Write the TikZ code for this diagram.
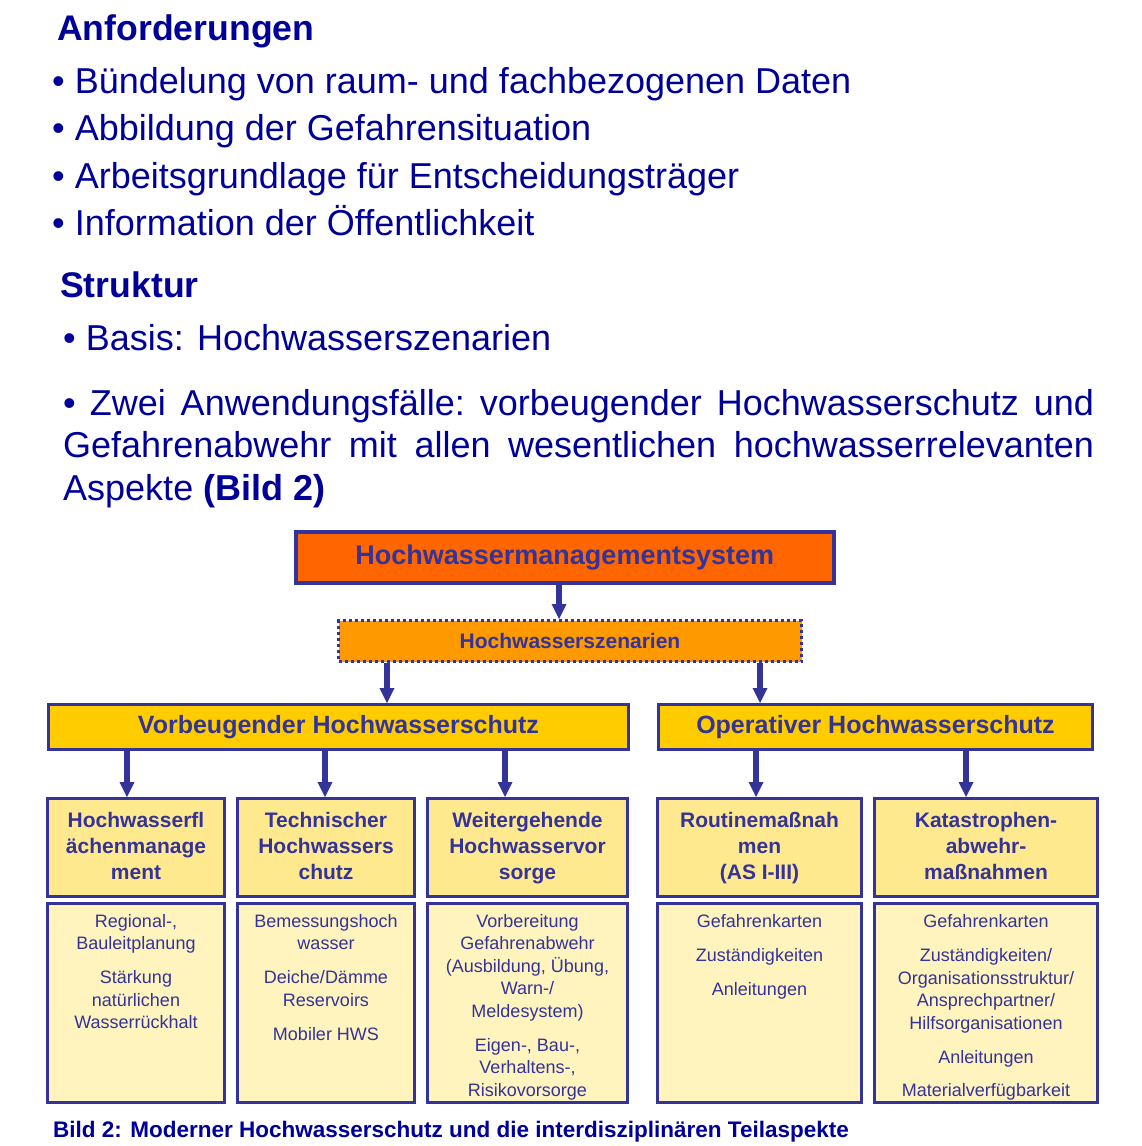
\documentclass[tikz,border=0pt]{standalone}
\usepackage{fontspec}
\setmainfont{Liberation Sans}
\usetikzlibrary{arrows.meta,positioning}

\definecolor{tinte}{RGB}{0,0,153}
\definecolor{rahmen}{RGB}{51,51,153}
\definecolor{orange1}{RGB}{255,102,0}
\definecolor{orange2}{RGB}{255,153,0}
\definecolor{gelb1}{RGB}{255,204,0}
\definecolor{gelb2}{RGB}{255,233,143}
\definecolor{gelb3}{RGB}{255,244,190}

\begin{document}
\begin{tikzpicture}[x=1pt, y=-1pt]

    % rozměry obrázku (v pixelech)
    \def\W{1141}
    \def\H{1146}

    % styly
    \tikzset{
        kopf/.style={inner sep=0pt, anchor=base west, text=tinte, font=\bfseries\fontsize{35.6}{42}\selectfont},
        zeile/.style={inner sep=0pt, anchor=base west, text=tinte, font=\fontsize{36}{43}\selectfont},
        kasten/.style={draw=rahmen, line width=3pt, inner sep=0pt, anchor=north west, text=rahmen, align=center},
        titel/.style={kasten, fill=gelb2, minimum height=98pt, font=\bfseries\fontsize{21}{26}\selectfont},
        leer/.style={kasten, fill=gelb3, minimum height=199pt},
        inhalt/.style={inner sep=0pt, text=rahmen, align=center, font=\fontsize{18}{22.5}\selectfont},
        pfeil/.style={draw=rahmen, line width=6pt, -{Triangle[length=15pt, width=15pt, line width=0pt]}}
    }

    % pomocné makro: podpěry prvního a posledního řádku
    \newcommand{\oben}{\rule{0pt}{16pt}}
    \newcommand{\unten}{\rule[-5pt]{0pt}{5pt}}

    % pozadí
    \useasboundingbox (0,0) rectangle (\W,\H);
    \fill[white] (0,0) rectangle (\W,\H);

    % --- text nahoře ---
    \node[kopf] (anf) at (57,40) {Anforderungen};
    \node[zeile] (a1) at (52,93) {• Bündelung von raum- und fachbezogenen Daten};
    \node[zeile] (a2) at (52,140.5) {• Abbildung der Gefahrensituation};
    \node[zeile] (a3) at (52,188) {• Arbeitsgrundlage für Entscheidungsträger};
    \node[zeile] (a4) at (52,235.5) {• Information der Öffentlichkeit};

    \node[kopf] (struk) at (60,297) {Struktur};
    \node[zeile] (s1) at (63,350) {• Basis: Hochwasserszenarien};
    \node[zeile] (s2) at (63,415) {\hbox to 1031pt{•\hspace{14pt}Zwei\hfill Anwendungsfälle:\hfill vorbeugender\hfill Hochwasserschutz\hfill und}};
    \node[zeile] (s3) at (63,457.5) {\hbox to 1031pt{Gefahrenabwehr\hfill mit\hfill allen\hfill wesentlichen\hfill hochwasserrelevanten}};
    \node[zeile] (s4) at (63,500) {Aspekte \textbf{(Bild 2)}};

    % --- schéma ---
    \node[kasten, fill=orange1, line width=3.5pt, minimum width=538pt, minimum height=51pt,
          font=\bfseries\fontsize{27}{32}\selectfont] (hms) at (294,530) {Hochwassermanagementsystem};
    \node[kasten, fill=orange2, dash pattern=on 3pt off 3pt, minimum width=463pt, minimum height=41pt,
          font=\bfseries\fontsize{21}{25}\selectfont] (szen) at (337,619) {Hochwasserszenarien};

    \node[kasten, fill=gelb1, minimum width=580pt, minimum height=45pt,
          font=\bfseries\fontsize{25}{30}\selectfont] (vorb) at (47,703) {Vorbeugender Hochwasserschutz};
    \node[kasten, fill=gelb1, minimum width=434pt, minimum height=45pt,
          font=\bfseries\fontsize{25}{30}\selectfont] (oper) at (657,703) {Operativer Hochwasserschutz};

    % řádek 1
    \node[titel, minimum width=177pt] (k1) at (46,797) {\oben Hochwasserfl\\ächenmanage\\ment\unten};
    \node[titel, minimum width=177pt] (k2) at (236,797) {\oben Technischer\\Hochwassers\\chutz\unten};
    \node[titel, minimum width=200pt] (k3) at (426,797) {\oben Weitergehende\\Hochwasservor\\sorge\unten};
    \node[titel, minimum width=204pt] (k4) at (656,797) {\oben Routinemaßnah\\men\\(AS I-III)\unten};
    \node[titel, minimum width=223pt] (k5) at (873,797) {\oben Katastrophen-\\abwehr-\\maßnahmen\unten};

    % řádek 2
    \node[leer, minimum width=177pt] (b1) at (46,902) {};
    \node[leer, minimum width=177pt] (b2) at (236,902) {};
    \node[leer, minimum width=200pt] (b3) at (426,902) {};
    \node[leer, minimum width=204pt] (b4) at (656,902) {};
    \node[leer, minimum width=223pt] (b5) at (873,902) {};

    \node[inhalt, below=10pt of b1.north] (t1) {\rule{0pt}{15pt}Regional-,\\Bauleitplanung\\[11.5pt]Stärkung\\natürlichen\\Wasserrückhalt};
    \node[inhalt, below=10pt of b2.north] (t2) {\rule{0pt}{15pt}Bemessungshoch\\wasser\\[11.5pt]Deiche/Dämme\\Reservoirs\\[11.5pt]Mobiler HWS};
    \node[inhalt, below=10pt of b3.north] (t3) {\rule{0pt}{15pt}Vorbereitung\\Gefahrenabwehr\\(Ausbildung, Übung,\\Warn-/\\Meldesystem)\\[11.5pt]Eigen-, Bau-,\\Verhaltens-,\\Risikovorsorge};
    \node[inhalt, below=10pt of b4.north] (t4) {\rule{0pt}{15pt}Gefahrenkarten\\[11.5pt]Zuständigkeiten\\[11.5pt]Anleitungen};
    \node[inhalt, below=10pt of b5.north] (t5) {\rule{0pt}{15pt}Gefahrenkarten\\[12pt]Zuständigkeiten/\\Organisationsstruktur/\\Ansprechpartner/\\Hilfsorganisationen\\[12pt]Anleitungen\\[10pt]Materialverfügbarkeit};

    % šipky
    \foreach \von/\nach/\x in {hms/szen/559, szen/vorb/387, szen/oper/760,
                               vorb/k1/127, vorb/k2/325, vorb/k3/505, oper/k4/756, oper/k5/966} {
        \draw[pfeil] (\von.south -| \x,0) -- (\nach.north -| \x,0);
    }

    % popisek
    \node[inner sep=0pt, anchor=base west, text=tinte, font=\bfseries\fontsize{22.5}{27}\selectfont] (bild) at (53,1137)
        {Bild 2: Moderner Hochwasserschutz und die interdisziplinären Teilaspekte};

\end{tikzpicture}
\end{document}
